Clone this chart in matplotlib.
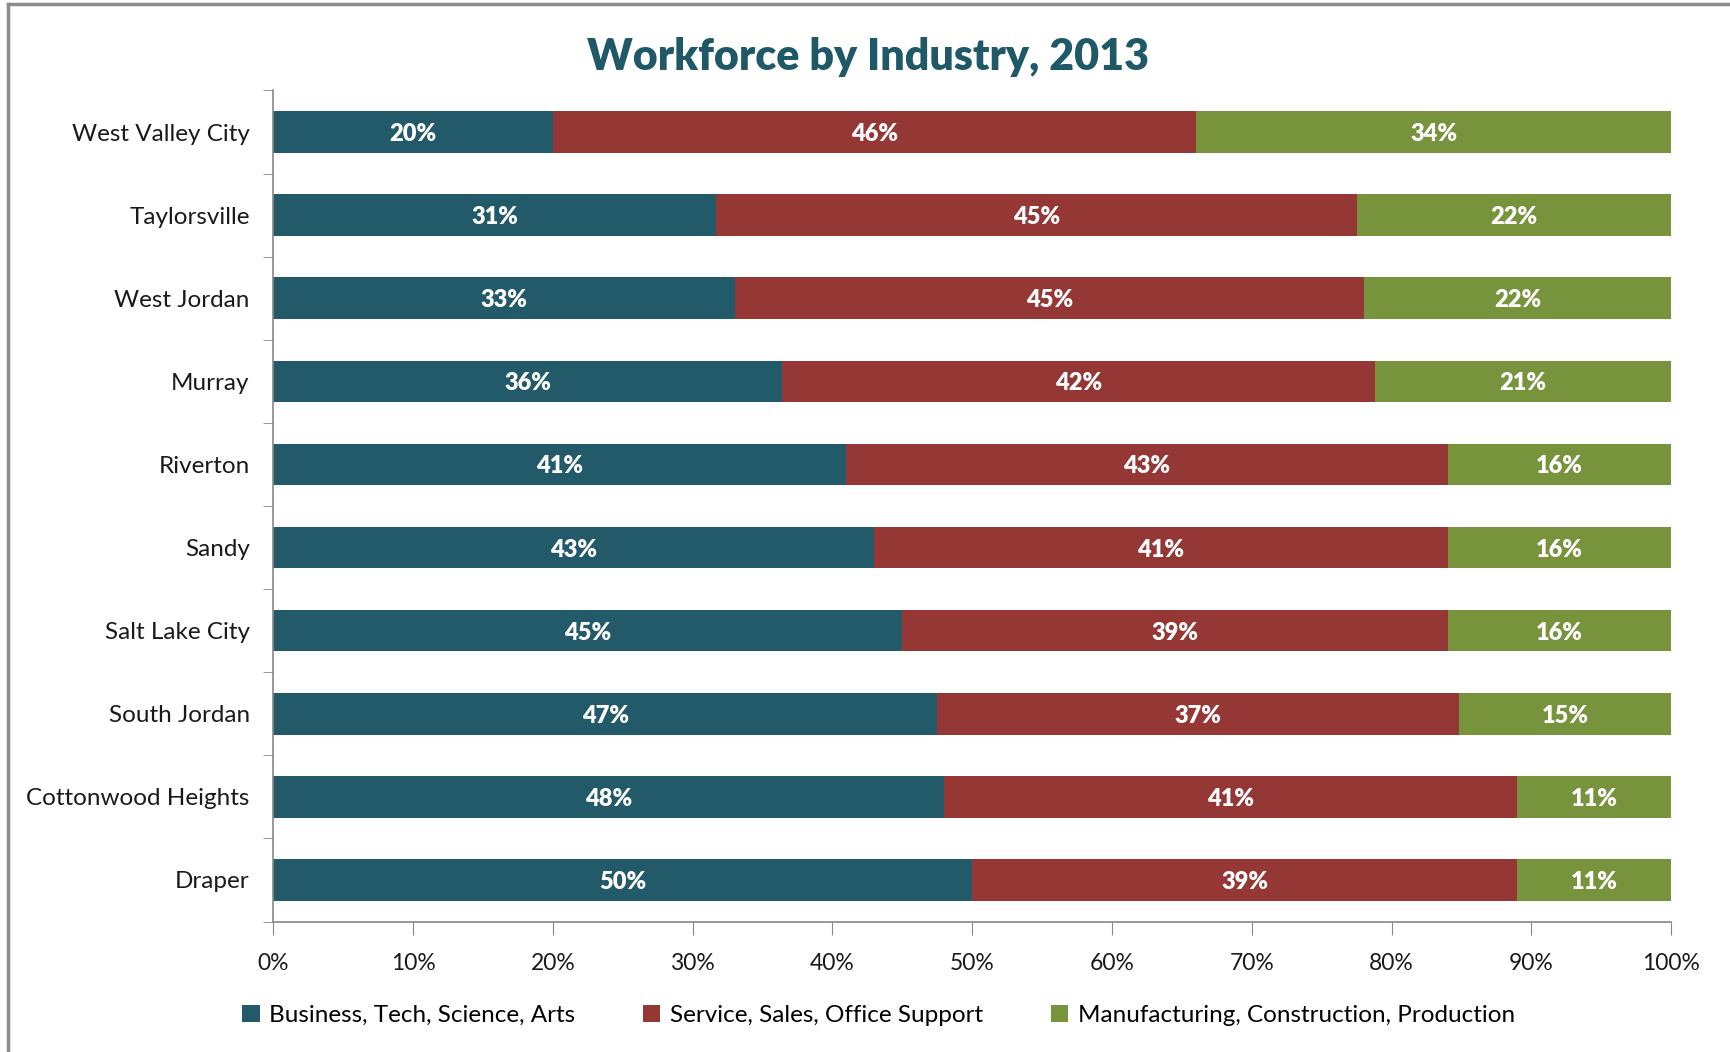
import numpy as np
import matplotlib.pyplot as plt
from matplotlib.lines import Line2D
from matplotlib.patches import Patch

# data (labels as shown; Excel 100% stacked normalises each row)
cities = ['West Valley City', 'Taylorsville', 'West Jordan', 'Murray', 'Riverton',
          'Sandy', 'Salt Lake City', 'South Jordan', 'Cottonwood Heights', 'Draper']
business = [20, 31, 33, 36, 41, 43, 45, 47, 48, 50]
service = [46, 45, 45, 42, 43, 41, 39, 37, 41, 39]
manufacturing = [34, 22, 22, 21, 16, 16, 16, 15, 11, 11]
series_names = ['Business, Tech, Science, Arts', 'Service, Sales, Office Support',
                'Manufacturing, Construction, Production']
colors = ['#235a69', '#953735', '#77933c']

plt.rcParams['font.family'] = ['Lato', 'DejaVu Sans']

fig = plt.figure(figsize=(17.3, 10.52), dpi=100)
ax = fig.add_axes([0.158, 0.124, 0.808, 0.790])

raw = np.array([business, service, manufacturing], dtype=float)
shares = raw / raw.sum(axis=0) * 100
y = np.arange(len(cities))
left = np.zeros(len(cities))
for i in range(3):
    ax.barh(y, shares[i], left=left, height=0.5, color=colors[i], label=series_names[i])
    for j in range(len(cities)):
        ax.text(left[j] + shares[i][j] / 2, y[j], '%d%%' % raw[i][j], ha='center',
                va='center_baseline', color='white', fontsize=17, fontweight='heavy')
    left += shares[i]

ax.set_xlim(0, 100)
ax.set_ylim(len(cities) - 0.5, -0.5)
ax.set_yticks(y)
ax.set_yticklabels(cities, fontsize=17.5, color='#1a1a1a')
ax.set_yticks(np.arange(-0.5, len(cities), 1), minor=True)
ax.tick_params(axis='y', which='major', length=0, pad=17)
ax.tick_params(axis='y', which='minor', length=7, color='#888888', direction='out')
ax.set_xticks(np.arange(0, 101, 10))
ax.set_xticklabels(['%d%%' % v for v in range(0, 101, 10)], fontsize=16.5, color='#1a1a1a')
ax.tick_params(axis='x', length=9, color='#888888', pad=14)
for s in ['top', 'right']:
    ax.spines[s].set_visible(False)
for s in ['left', 'bottom']:
    ax.spines[s].set_color('#888888')
    ax.spines[s].set_linewidth(1.2)

fig.text(0.502, 0.946, 'Workforce by Industry, 2013', ha='center', va='center',
         fontsize=31, fontweight='heavy', color='#1f5866')

handles = [Patch(facecolor=c) for c in colors]
fig.legend(handles, series_names, loc='center', bbox_to_anchor=(0.508, 0.035), ncol=3,
           frameon=False, fontsize=17.5, handlelength=0.7, handleheight=0.7,
           handletextpad=0.4, columnspacing=2.8)

# chart frame (left and top edges visible)
fig.add_artist(Line2D([0.0045, 0.0045], [0.0, 0.996], transform=fig.transFigure,
                      color='#8c8c8c', linewidth=2.5))
fig.add_artist(Line2D([0.0045, 1.0], [0.996, 0.996], transform=fig.transFigure,
                      color='#8c8c8c', linewidth=2.5))

fig.savefig('out.png', dpi=100, facecolor='white')
